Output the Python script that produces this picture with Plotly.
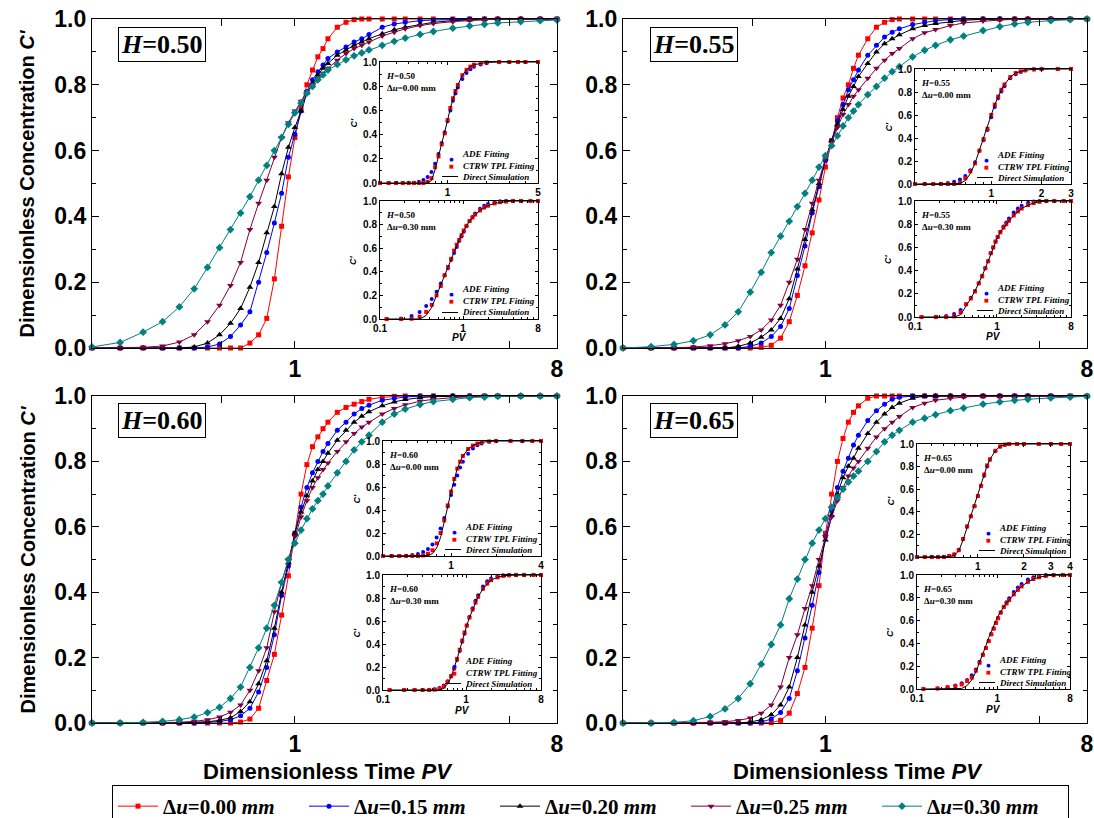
import math
import plotly.graph_objects as go

# ---------------- data ----------------
PV = [0.2, 0.25, 0.3, 0.35, 0.4, 0.45, 0.5, 0.55, 0.6, 0.65, 0.7, 0.75, 0.8, 0.85, 0.9, 0.95,
      1.0, 1.05, 1.1, 1.15, 1.2, 1.25, 1.3, 1.4, 1.5, 1.6, 1.7, 1.8, 2.0, 2.2, 2.4, 2.7, 3.0,
      3.5, 4.0, 4.5, 5.0, 6.0, 7.0, 8.0]

DU_LABELS = ["0.00", "0.15", "0.20", "0.25", "0.30"]

# H = 0.50
C50_00 = [0, 0, 0, 0, 0, 0, 0, 0, 0, 0, 0.015, 0.04, 0.09, 0.21, 0.37, 0.52, 0.64, 0.73, 0.80, 0.845,
          0.885, 0.91, 0.94, 0.975, 0.99, 0.998, 1, 1, 1, 1, 1, 1, 1, 1, 1, 1, 1, 1, 1, 1]
C50_15 = [0, 0, 0, 0, 0, 0, 0.003, 0.012, 0.035, 0.07, 0.11, 0.2, 0.29, 0.38, 0.47, 0.58, 0.65, 0.72,
          0.78, 0.815, 0.84, 0.86, 0.88, 0.9, 0.915, 0.93, 0.94, 0.953, 0.975, 0.985, 0.99, 0.995,
          0.997, 0.999, 1, 1, 1, 1, 1, 1]
C50_20 = [0, 0, 0, 0, 0, 0.003, 0.015, 0.04, 0.075, 0.12, 0.185, 0.26, 0.35, 0.43, 0.53, 0.61, 0.67,
          0.72, 0.775, 0.805, 0.83, 0.85, 0.865, 0.89, 0.905, 0.92, 0.93, 0.94, 0.955, 0.967, 0.975,
          0.984, 0.99, 0.995, 0.997, 0.999, 1, 1, 1, 1]
C50_25 = [0, 0, 0.002, 0.006, 0.018, 0.04, 0.08, 0.13, 0.19, 0.26, 0.36, 0.44, 0.51, 0.58, 0.64, 0.685,
          0.72, 0.75, 0.78, 0.8, 0.82, 0.835, 0.85, 0.875, 0.895, 0.91, 0.92, 0.93, 0.948, 0.96, 0.97,
          0.98, 0.986, 0.992, 0.996, 0.998, 1, 1, 1, 1]
C50_30 = [0.003, 0.017, 0.048, 0.08, 0.125, 0.18, 0.245, 0.305, 0.36, 0.41, 0.46, 0.51, 0.555, 0.6,
          0.64, 0.68, 0.715, 0.745, 0.775, 0.795, 0.815, 0.83, 0.845, 0.862, 0.876, 0.888, 0.897,
          0.906, 0.92, 0.932, 0.942, 0.953, 0.962, 0.972, 0.979, 0.984, 0.988, 0.992, 0.995, 0.997]

# H = 0.55
C55_00 = [0, 0, 0, 0, 0, 0, 0, 0, 0.002, 0.008, 0.03, 0.08, 0.16, 0.25, 0.35, 0.45, 0.55, 0.63, 0.7,
          0.76, 0.8, 0.85, 0.89, 0.94, 0.975, 0.99, 0.998, 1, 1, 1, 1, 1, 1, 1, 1, 1, 1, 1, 1, 1]
C55_15 = [0, 0, 0, 0, 0, 0, 0, 0.005, 0.015, 0.035, 0.065, 0.12, 0.22, 0.31, 0.41, 0.49, 0.57, 0.63,
          0.69, 0.74, 0.785, 0.815, 0.845, 0.89, 0.92, 0.945, 0.96, 0.97, 0.983, 0.99, 0.995, 0.998,
          1, 1, 1, 1, 1, 1, 1, 1]
C55_20 = [0, 0, 0, 0, 0, 0, 0.005, 0.015, 0.033, 0.055, 0.09, 0.15, 0.24, 0.33, 0.42, 0.5, 0.575,
          0.63, 0.68, 0.725, 0.765, 0.795, 0.825, 0.865, 0.9, 0.925, 0.94, 0.952, 0.97, 0.98, 0.986,
          0.992, 0.996, 0.999, 1, 1, 1, 1, 1, 1]
C55_25 = [0, 0, 0, 0.003, 0.007, 0.013, 0.022, 0.035, 0.055, 0.085, 0.13, 0.2, 0.27, 0.36, 0.44, 0.51,
          0.575, 0.625, 0.67, 0.71, 0.74, 0.765, 0.785, 0.82, 0.85, 0.875, 0.895, 0.91, 0.94, 0.958,
          0.968, 0.98, 0.988, 0.994, 0.997, 0.999, 1, 1, 1, 1]
C55_30 = [0, 0.004, 0.011, 0.022, 0.04, 0.07, 0.11, 0.17, 0.23, 0.29, 0.34, 0.385, 0.43, 0.47, 0.51,
          0.55, 0.585, 0.615, 0.645, 0.675, 0.7, 0.72, 0.74, 0.77, 0.795, 0.82, 0.84, 0.855, 0.885,
          0.905, 0.92, 0.937, 0.948, 0.965, 0.977, 0.985, 0.99, 0.995, 0.998, 1.0]

# H = 0.60
C60_00 = [0, 0, 0, 0, 0, 0, 0, 0, 0, 0.003, 0.012, 0.045, 0.13, 0.21, 0.33, 0.45, 0.58, 0.7, 0.79,
          0.845, 0.875, 0.9, 0.92, 0.95, 0.965, 0.975, 0.983, 0.99, 0.996, 0.999, 1, 1, 1, 1, 1, 1,
          1, 1, 1, 1]
C60_15 = [0, 0, 0, 0, 0, 0, 0.002, 0.005, 0.01, 0.022, 0.045, 0.095, 0.17, 0.27, 0.39, 0.48, 0.58,
          0.66, 0.72, 0.765, 0.8, 0.83, 0.855, 0.895, 0.92, 0.945, 0.962, 0.972, 0.987, 0.993, 0.997,
          1, 1, 1, 1, 1, 1, 1, 1, 1]
C60_20 = [0, 0, 0, 0, 0, 0.002, 0.004, 0.008, 0.016, 0.035, 0.065, 0.12, 0.19, 0.29, 0.4, 0.49, 0.58,
          0.645, 0.695, 0.74, 0.775, 0.8, 0.825, 0.865, 0.895, 0.92, 0.938, 0.952, 0.97, 0.982,
          0.989, 0.995, 0.998, 1, 1, 1, 1, 1, 1, 1]
C60_25 = [0, 0, 0, 0, 0.002, 0.005, 0.01, 0.018, 0.033, 0.055, 0.1, 0.16, 0.23, 0.34, 0.43, 0.5, 0.57,
          0.63, 0.68, 0.72, 0.75, 0.775, 0.795, 0.83, 0.86, 0.885, 0.905, 0.92, 0.945, 0.962, 0.973,
          0.984, 0.99, 0.995, 0.998, 1, 1, 1, 1, 1]
C60_30 = [0, 0, 0.002, 0.005, 0.01, 0.018, 0.032, 0.048, 0.075, 0.11, 0.17, 0.23, 0.29, 0.36, 0.43,
          0.5, 0.55, 0.59, 0.625, 0.655, 0.68, 0.7, 0.725, 0.765, 0.8, 0.835, 0.86, 0.88, 0.92, 0.945,
          0.96, 0.974, 0.983, 0.99, 0.995, 0.997, 0.999, 1, 1, 1]

# H = 0.65
C65_00 = [0, 0, 0, 0, 0, 0, 0, 0, 0, 0.001, 0.008, 0.03, 0.09, 0.17, 0.29, 0.42, 0.58, 0.7, 0.8, 0.87,
          0.92, 0.95, 0.97, 0.993, 1, 1, 1, 1, 1, 1, 1, 1, 1, 1, 1, 1, 1, 1, 1, 1]
C65_15 = [0, 0, 0, 0, 0, 0, 0, 0, 0.003, 0.012, 0.032, 0.075, 0.16, 0.26, 0.36, 0.46, 0.57, 0.65,
          0.72, 0.77, 0.81, 0.85, 0.88, 0.925, 0.955, 0.975, 0.99, 0.996, 1, 1, 1, 1, 1, 1, 1, 1, 1,
          1, 1, 1]
C65_20 = [0, 0, 0, 0, 0, 0, 0, 0.003, 0.01, 0.025, 0.055, 0.11, 0.2, 0.3, 0.4, 0.48, 0.56, 0.635, 0.7,
          0.75, 0.785, 0.81, 0.84, 0.885, 0.92, 0.945, 0.965, 0.978, 0.993, 1, 1, 1, 1, 1, 1, 1, 1,
          1, 1, 1]
C65_25 = [0, 0, 0, 0, 0.002, 0.004, 0.008, 0.015, 0.03, 0.055, 0.11, 0.2, 0.27, 0.35, 0.42, 0.5, 0.57,
          0.63, 0.68, 0.72, 0.755, 0.78, 0.8, 0.84, 0.875, 0.9, 0.92, 0.937, 0.965, 0.978, 0.987,
          0.993, 0.997, 1, 1, 1, 1, 1, 1, 1]
C65_30 = [0, 0, 0.002, 0.007, 0.02, 0.043, 0.075, 0.12, 0.18, 0.24, 0.3, 0.38, 0.44, 0.5, 0.55, 0.59,
          0.625, 0.66, 0.69, 0.715, 0.737, 0.755, 0.77, 0.8, 0.83, 0.86, 0.88, 0.895, 0.92, 0.932,
          0.943, 0.955, 0.963, 0.975, 0.982, 0.987, 0.99, 0.994, 0.997, 0.999]

# inset grids
PV_TOP = [0.3, 0.35, 0.4, 0.45, 0.5, 0.55, 0.6, 0.65, 0.7, 0.75, 0.8, 0.85, 0.9, 0.95, 1.0, 1.05,
          1.1, 1.15, 1.2, 1.3, 1.4, 1.5, 1.6, 1.8, 2.0, 2.5, 3.0, 3.5, 4.0, 5.0]
PV_BOT = [0.12, 0.18, 0.24, 0.3, 0.36, 0.42, 0.48, 0.54, 0.6, 0.66, 0.72, 0.78, 0.84, 0.9, 0.96,
          1.02, 1.1, 1.2, 1.3, 1.4, 1.6, 1.8, 2.0, 2.4, 2.8, 3.3, 4.0, 5.0, 6.5, 8.0]

# inset H=0.50
ADE50_T = [0, 0, 0, 0, 0, 0.003, 0.01, 0.025, 0.05, 0.09, 0.16, 0.24, 0.33, 0.42, 0.51, 0.6, 0.68,
           0.74, 0.79, 0.86, 0.91, 0.94, 0.96, 0.98, 0.99, 0.998, 1, 1, 1, 1]
CTRW50_T = [0, 0, 0, 0, 0, 0, 0, 0, 0.01, 0.04, 0.13, 0.22, 0.32, 0.41, 0.52, 0.62, 0.7, 0.76, 0.81,
            0.89, 0.935, 0.962, 0.978, 0.99, 0.996, 1, 1, 1, 1, 1]
SIM50_T = [0, 0, 0, 0, 0, 0, 0, 0, 0, 0.02, 0.11, 0.22, 0.32, 0.42, 0.52, 0.62, 0.7, 0.76, 0.81,
           0.89, 0.935, 0.962, 0.978, 0.99, 0.996, 1, 1, 1, 1, 1]
ADE50_B = [0, 0.005, 0.025, 0.06, 0.11, 0.17, 0.23, 0.3, 0.37, 0.43, 0.5, 0.56, 0.61, 0.66, 0.7, 0.74,
           0.785, 0.83, 0.865, 0.895, 0.935, 0.96, 0.975, 0.99, 0.997, 1, 1, 1, 1, 1]
CTRW50_B = [0, 0, 0.002, 0.02, 0.06, 0.12, 0.2, 0.28, 0.37, 0.44, 0.51, 0.58, 0.63, 0.67, 0.71, 0.75,
            0.79, 0.83, 0.86, 0.885, 0.92, 0.945, 0.96, 0.98, 0.99, 0.995, 1, 1, 1, 1]
SIM50_B = [0, 0, 0, 0, 0.03, 0.1, 0.2, 0.29, 0.37, 0.45, 0.52, 0.58, 0.63, 0.675, 0.715, 0.75, 0.79,
           0.83, 0.86, 0.885, 0.92, 0.945, 0.96, 0.98, 0.99, 0.995, 1, 1, 1, 1]

# inset H=0.55
ADE55_T = [0, 0, 0, 0, 0.003, 0.008, 0.02, 0.04, 0.07, 0.12, 0.19, 0.29, 0.38, 0.47, 0.58, 0.67,
           0.745, 0.805, 0.85, 0.92, 0.955, 0.975, 0.988, 0.996, 1, 1, 1, 1, 1, 1]
CTRW55_T = [0, 0, 0, 0, 0, 0, 0, 0.01, 0.05, 0.11, 0.18, 0.29, 0.39, 0.48, 0.6, 0.69, 0.76, 0.82,
            0.865, 0.93, 0.965, 0.98, 0.99, 0.997, 1, 1, 1, 1, 1, 1]
SIM55_T = [0, 0, 0, 0, 0, 0, 0, 0.005, 0.03, 0.09, 0.18, 0.29, 0.39, 0.49, 0.6, 0.69, 0.76, 0.82,
           0.865, 0.93, 0.965, 0.98, 0.99, 0.997, 1, 1, 1, 1, 1, 1]
ADE55_B = [0, 0.002, 0.008, 0.025, 0.06, 0.11, 0.165, 0.225, 0.29, 0.355, 0.42, 0.48, 0.55, 0.6, 0.65,
           0.69, 0.735, 0.78, 0.815, 0.85, 0.9, 0.935, 0.96, 0.985, 0.995, 1, 1, 1, 1, 1]
CTRW55_B = [0, 0, 0, 0.005, 0.04, 0.11, 0.16, 0.22, 0.29, 0.35, 0.42, 0.48, 0.55, 0.6, 0.65, 0.69,
            0.73, 0.77, 0.8, 0.83, 0.875, 0.91, 0.935, 0.965, 0.983, 0.993, 1, 1, 1, 1]
SIM55_B = [0, 0, 0, 0, 0.02, 0.09, 0.16, 0.225, 0.29, 0.355, 0.42, 0.48, 0.55, 0.6, 0.65, 0.69, 0.73,
           0.77, 0.8, 0.83, 0.875, 0.91, 0.935, 0.965, 0.983, 0.993, 1, 1, 1, 1]

# inset H=0.60
ADE60_T = [0, 0, 0, 0, 0.003, 0.008, 0.018, 0.035, 0.06, 0.1, 0.16, 0.24, 0.33, 0.43, 0.53, 0.62,
           0.7, 0.77, 0.82, 0.89, 0.935, 0.962, 0.978, 0.993, 0.998, 1, 1, 1, 1, 1]
CTRW60_T = [0, 0, 0, 0, 0, 0, 0, 0.005, 0.02, 0.05, 0.11, 0.2, 0.31, 0.44, 0.56, 0.67, 0.76, 0.82,
            0.87, 0.93, 0.96, 0.978, 0.988, 0.996, 1, 1, 1, 1, 1, 1]
SIM60_T = [0, 0, 0, 0, 0, 0, 0, 0, 0.005, 0.02, 0.07, 0.16, 0.29, 0.43, 0.56, 0.67, 0.76, 0.82, 0.87,
           0.93, 0.96, 0.978, 0.988, 0.996, 1, 1, 1, 1, 1, 1]
ADE60_B = [0, 0, 0, 0, 0.002, 0.007, 0.018, 0.04, 0.075, 0.12, 0.185, 0.26, 0.34, 0.42, 0.49, 0.56,
           0.635, 0.71, 0.775, 0.825, 0.9, 0.945, 0.97, 0.99, 0.998, 1, 1, 1, 1, 1]
CTRW60_B = [0, 0, 0, 0, 0, 0.003, 0.012, 0.03, 0.07, 0.12, 0.19, 0.27, 0.35, 0.43, 0.5, 0.56, 0.63,
            0.7, 0.76, 0.81, 0.88, 0.925, 0.955, 0.98, 0.992, 0.997, 1, 1, 1, 1]
SIM60_B = [0, 0, 0, 0, 0, 0, 0, 0.015, 0.055, 0.11, 0.185, 0.27, 0.35, 0.43, 0.5, 0.56, 0.63, 0.7,
           0.76, 0.81, 0.88, 0.925, 0.955, 0.98, 0.992, 0.997, 1, 1, 1, 1]

# inset H=0.65
ADE65_T = [0, 0, 0, 0, 0, 0, 0.003, 0.01, 0.025, 0.065, 0.16, 0.27, 0.36, 0.45, 0.54, 0.63, 0.72,
           0.8, 0.86, 0.935, 0.975, 0.992, 0.998, 1, 1, 1, 1, 1, 1, 1]
CTRW65_T = [0, 0, 0, 0, 0, 0, 0, 0.008, 0.02, 0.06, 0.16, 0.27, 0.36, 0.45, 0.54, 0.63, 0.73, 0.81,
            0.865, 0.94, 0.98, 0.995, 1, 1, 1, 1, 1, 1, 1, 1]
SIM65_T = [0, 0, 0, 0, 0, 0, 0, 0.003, 0.015, 0.055, 0.15, 0.26, 0.36, 0.45, 0.54, 0.63, 0.73, 0.81,
           0.865, 0.94, 0.98, 0.995, 1, 1, 1, 1, 1, 1, 1, 1]
ADE65_B = [0, 0.005, 0.015, 0.03, 0.05, 0.08, 0.12, 0.17, 0.24, 0.3, 0.36, 0.42, 0.48, 0.53, 0.58,
           0.62, 0.67, 0.72, 0.76, 0.795, 0.85, 0.89, 0.92, 0.96, 0.98, 0.993, 1, 1, 1, 1]
CTRW65_B = [0, 0.005, 0.015, 0.025, 0.04, 0.07, 0.1, 0.16, 0.23, 0.3, 0.36, 0.42, 0.48, 0.53, 0.58,
            0.62, 0.67, 0.72, 0.75, 0.78, 0.83, 0.87, 0.9, 0.94, 0.965, 0.98, 0.992, 0.998, 1, 1]
SIM65_B = [0, 0, 0, 0, 0.005, 0.03, 0.08, 0.15, 0.23, 0.31, 0.38, 0.45, 0.51, 0.56, 0.6, 0.64, 0.68,
           0.72, 0.755, 0.785, 0.83, 0.87, 0.9, 0.94, 0.965, 0.98, 0.992, 0.998, 1, 1]

# ---------------- styling / layout ----------------
W, H = 1094, 818
COLORS = ["#FF0000", "#0000FF", "#000000", "#800040", "#008080"]
SYMBOLS = ["square", "circle", "triangle-up", "triangle-down", "diamond"]
SIZES = [5, 5, 6, 6, 6]
SANS = "Liberation Sans"
SERIF = "Liberation Serif"


def fx(p):
    return p / W


def fy(p):
    return 1 - p / H


def xname(n):
    return "xaxis" if n == 1 else f"xaxis{n}"


def yname(n):
    return "yaxis" if n == 1 else f"yaxis{n}"


def xref(n):
    return "x" if n == 1 else f"x{n}"


def yref(n):
    return "y" if n == 1 else f"y{n}"


panels = [
    dict(h="0.50", box=(92, 557, 19, 348), series=[C50_00, C50_15, C50_20, C50_25, C50_30],
         top=(380, 538, 62, 183), bot=(380, 538, 201, 319), trange=(0.3, 5), tticks=[1, 5],
         tdata=(ADE50_T, CTRW50_T, SIM50_T), bdata=(ADE50_B, CTRW50_B, SIM50_B), hpos=(162, 44),
         pvy=337, ytitle=True, xtitle=False),
    dict(h="0.55", box=(623, 1087, 19, 348), series=[C55_00, C55_15, C55_20, C55_25, C55_30],
         top=(915, 1071, 69, 184), bot=(915, 1071, 201, 317), trange=(0.35, 3), tticks=[1, 2, 3],
         tdata=(ADE55_T, CTRW55_T, SIM55_T), bdata=(ADE55_B, CTRW55_B, SIM55_B), hpos=(694, 44),
         pvy=336, ytitle=False, xtitle=False),
    dict(h="0.60", box=(92, 557, 396, 723), series=[C60_00, C60_15, C60_20, C60_25, C60_30],
         top=(383, 541, 441, 556), bot=(383, 541, 575, 690), trange=(0.35, 4), tticks=[1, 4],
         tdata=(ADE60_T, CTRW60_T, SIM60_T), bdata=(ADE60_B, CTRW60_B, SIM60_B), hpos=(162, 420),
         pvy=710, ytitle=True, xtitle=True),
    dict(h="0.65", box=(623, 1087, 396, 723), series=[C65_00, C65_15, C65_20, C65_25, C65_30],
         top=(917, 1070, 444, 557), bot=(917, 1070, 575, 689), trange=(0.4, 4), tticks=[1, 2, 3, 4],
         tdata=(ADE65_T, CTRW65_T, SIM65_T), bdata=(ADE65_B, CTRW65_B, SIM65_B), hpos=(694, 420),
         pvy=709, ytitle=False, xtitle=True),
]

fig = go.Figure()
layout = {}
annotations = []
shapes = []

YT = [0, 0.2, 0.4, 0.6, 0.8, 1.0]
YT_TXT = ["0.0", "0.2", "0.4", "0.6", "0.8", "1.0"]


def axis_common(ticklen, font_size):
    return dict(ticks="inside", ticklen=ticklen, tickwidth=1.3, tickcolor="black", showline=True,
                linecolor="black", linewidth=1.3, mirror="ticks", showgrid=False, zeroline=False,
                tickfont=dict(family=SANS, size=font_size, color="black", weight="bold"))


def ann(x, y, text, size, family=SANS, xanchor="center", yanchor="middle", **kw):
    d = dict(x=fx(x), y=fy(y), xref="paper", yref="paper", showarrow=False, text=text,
             xanchor=xanchor, yanchor=yanchor,
             font=dict(family=family, size=size, color="black", weight="bold"))
    d.update(kw)
    return d


for i, p in enumerate(panels):
    n = i + 1
    x0, x1, y0, y1 = p["box"]
    xa = axis_common(7, 23)
    xa.update(type="log", range=[math.log10(0.2), math.log10(8)], domain=[fx(x0), fx(x1)],
              anchor=yref(n), tickmode="array", tickvals=[1, 8], ticktext=["1", "8"],
              minor=dict(tickmode="array", tickvals=[0.56, 5.5], ticks="inside", ticklen=7,
                         tickcolor="black", tickwidth=1.3, showgrid=False))
    ya = axis_common(7, 23)
    ya.update(range=[0, 1], domain=[fy(y1), fy(y0)], anchor=xref(n), tickmode="array",
              tickvals=YT, ticktext=YT_TXT,
              minor=dict(tickmode="array", tickvals=[0.1, 0.3, 0.5, 0.7, 0.9], ticks="inside",
                         ticklen=4, tickcolor="black", tickwidth=1.3, showgrid=False))
    layout[xname(n)] = xa
    layout[yname(n)] = ya

    for k, vals in enumerate(p["series"]):
        fig.add_trace(go.Scatter(
            x=PV, y=vals, xaxis=xref(n), yaxis=yref(n), mode="lines+markers",
            name=f"\u0394<i>u</i>={DU_LABELS[k]} <i>mm</i>",
            legendgroup=DU_LABELS[k], showlegend=(i == 0), cliponaxis=False,
            line=dict(color=COLORS[k], width=1),
            marker=dict(symbol=SYMBOLS[k], size=SIZES[k], color=COLORS[k], line=dict(width=0))))

    # H label box
    annotations.append(ann(p["hpos"][0], p["hpos"][1], f"<i>H</i>=0.{p['h'][2:]}", 26, SERIF,
                           bordercolor="black", borderwidth=1, borderpad=2, bgcolor="white"))

    if p["ytitle"]:
        annotations.append(ann(27, (y0 + y1) / 2, "Dimensionless Concentration <i>C'</i>", 20,
                               textangle=-90))
    if p["xtitle"]:
        annotations.append(ann((x0 + x1) / 2 + 3, 771, "Dimensionless Time <i>PV</i>", 22))

    # ---- insets ----
    for j, (key, dkey, grid, du) in enumerate([("top", "tdata", PV_TOP, "0.00"),
                                               ("bot", "bdata", PV_BOT, "0.30")]):
        m = 5 + 2 * i + j
        ix0, ix1, iy0, iy1 = p[key]
        if key == "top":
            lo, hi = p["trange"]
            tv = p["tticks"]
            tt = [str(v) for v in tv]
            minor_vals = [v for v in [0.4, 0.5, 0.6, 0.7, 0.8, 0.9, 2, 3, 4]
                          if lo < v < hi and v not in tv]
        else:
            lo, hi = 0.1, 8
            tv = [0.1, 1, 8]
            tt = ["0.1", "1", "8"]
            minor_vals = [0.2, 0.3, 0.4, 0.5, 0.6, 0.7, 0.8, 0.9, 2, 3, 4, 5, 6, 7]
        ixa = axis_common(3, 10)
        ixa.update(type="log", range=[math.log10(lo), math.log10(hi)], domain=[fx(ix0), fx(ix1)],
                   anchor=yref(m), tickmode="array", tickvals=tv, ticktext=tt, linewidth=1,
                   tickwidth=1,
                   minor=dict(tickmode="array", tickvals=minor_vals, ticks="inside", ticklen=2,
                              tickcolor="black", tickwidth=1, showgrid=False))
        iya = axis_common(3, 10)
        iya.update(range=[0, 1], domain=[fy(iy1), fy(iy0)], anchor=xref(m), tickmode="array",
                   tickvals=YT, ticktext=YT_TXT, linewidth=1, tickwidth=1,
                   minor=dict(tickmode="array", tickvals=[0.1, 0.3, 0.5, 0.7, 0.9], ticks="inside",
                              ticklen=2, tickcolor="black", tickwidth=1, showgrid=False))
        layout[xname(m)] = ixa
        layout[yname(m)] = iya

        ade, ctrw, sim = p[dkey]
        keep = [q for q in range(len(grid)) if lo * 0.999 <= grid[q] <= hi * 1.001]
        gx = [grid[q] for q in keep]
        fig.add_trace(go.Scatter(x=gx, y=[ade[q] for q in keep], xaxis=xref(m), yaxis=yref(m),
                                 mode="markers", showlegend=False, cliponaxis=False,
                                 marker=dict(symbol="circle", size=4, color="#0000FF")))
        fig.add_trace(go.Scatter(x=gx, y=[ctrw[q] for q in keep], xaxis=xref(m), yaxis=yref(m),
                                 mode="markers", showlegend=False, cliponaxis=False,
                                 marker=dict(symbol="square", size=4, color="#FF0000")))
        fig.add_trace(go.Scatter(x=gx, y=[sim[q] for q in keep], xaxis=xref(m), yaxis=yref(m),
                                 mode="lines", showlegend=False,
                                 line=dict(color="black", width=1)))

        # inset labels (H and delta u), one block
        annotations.append(ann(ix0 + 4, iy0 + 7,
                               f"<i>H</i>=0.{p['h'][2:]}<br>\u0394<i>u</i>={du} mm", 9, SERIF,
                               xanchor="left", yanchor="top", align="left"))
        # inset y title
        annotations.append(ann(ix0 - 27, (iy0 + iy1) / 2, "<i>C'</i>", 9, textangle=-90))
        if key == "bot":
            annotations.append(ann((ix0 + ix1) / 2, p["pvy"], "<i>PV</i>", 10))
        # inset legend block
        mid = iy1 - 18
        annotations.append(ann(ix0 + 80, mid,
                               "<i>ADE Fitting</i><br><i>CTRW TPL Fitting</i><br><i>Direct Simulation</i>",
                               9, SERIF, xanchor="left", align="left"))
        annotations.append(ann(ix0 + 71, mid,
                               "<span style='color:#0000FF'>\u25CF</span><br>"
                               "<span style='color:#FF0000'>\u25A0</span><br> ",
                               5, "DejaVu Sans", yanchor="middle"))
        shapes.append(dict(type="line", xref="paper", yref="paper",
                           x0=fx(ix0 + 62), x1=fx(ix0 + 78), y0=fy(mid + 11.5), y1=fy(mid + 11.5),
                           line=dict(color="black", width=1)))

fig.update_layout(
    width=W, height=H, autosize=False,
    margin=dict(l=0, r=0, t=0, b=0, autoexpand=False),
    paper_bgcolor="white", plot_bgcolor="white",
    annotations=annotations, shapes=shapes,
    legend=dict(orientation="h", x=fx(112), y=fy(785), xanchor="left", yanchor="top",
                bordercolor="black", borderwidth=1, bgcolor="white",
                font=dict(family=SERIF, size=21, color="black", weight="bold"),
                itemwidth=40, entrywidth=136, entrywidthmode="pixels", tracegroupgap=0,
                traceorder="normal"),
    **layout,
)

fig.write_html("out.html")
